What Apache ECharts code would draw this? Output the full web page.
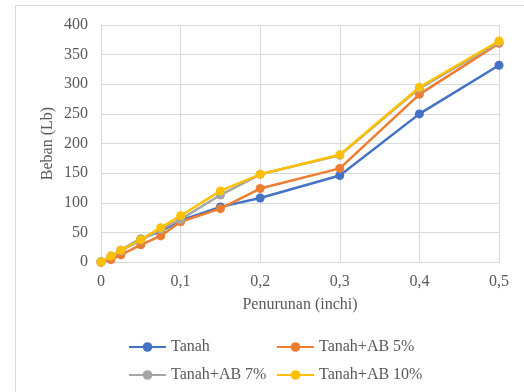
<!DOCTYPE html>
<html>
<head>
<meta charset="utf-8">
<script src="https://cdn.jsdelivr.net/npm/echarts@6/dist/echarts.min.js"></script>
<style>
  html, body { margin: 0; padding: 0; background: #ffffff; }
  #chart { width: 524px; height: 392px; }
</style>
</head>
<body>
<div id="chart"></div>
<script>
// Penetration (inch) vs load (lb)
const penurunan = [0, 0.0125, 0.025, 0.05, 0.075, 0.1, 0.15, 0.2, 0.3, 0.4, 0.5];
const tanah     = [0, 8, 20, 39, 52, 70, 93, 108, 146, 250, 332];
const tanahAB5  = [0, 4, 12, 29, 44, 68, 90, 124, 158, 283, 369];
const tanahAB7  = [0, 10, 19, 37, 55, 72, 113, 148, 180, 293, 371];
const tanahAB10 = [0, 10, 20, 38, 58, 78, 120, 148, 181, 295, 373];

const seriesNames  = ['Tanah', 'Tanah+AB 5%', 'Tanah+AB 7%', 'Tanah+AB 10%'];
const seriesValues = [tanah, tanahAB5, tanahAB7, tanahAB10];
const seriesColors = ['#4472C4', '#ED7D31', '#A5A5A5', '#FFC000'];

const FONT = "'Liberation Serif', 'Times New Roman', serif";
const TEXT = '#595959';
const GRID = '#d9d9d9';

const chart = echarts.init(document.getElementById('chart'), null, { renderer: 'canvas' });

const legendPos = [
  { left: 128, top: 339 },
  { left: 276, top: 339 },
  { left: 128, top: 367 },
  { left: 276, top: 367 }
];

chart.setOption({
  animation: false,
  backgroundColor: '#ffffff',
  graphic: [{
    type: 'rect',
    shape: { x: 15.5, y: 5.5, width: 700, height: 600 },
    style: { fill: 'none', stroke: GRID, lineWidth: 1 },
    silent: true,
    z: -1
  }],
  grid: { left: 101, right: 25, top: 25, bottom: 130 },
  legend: seriesNames.map((n, i) => ({
    data: [n],
    left: legendPos[i].left,
    top: legendPos[i].top,
    padding: 0,
    itemWidth: 37,
    itemHeight: 12,
    itemGap: 0,
    textStyle: { fontFamily: FONT, fontSize: 16, color: TEXT }
  })),
  xAxis: {
    type: 'value',
    min: 0,
    max: 0.5,
    interval: 0.1,
    name: 'Penurunan (inchi)',
    nameLocation: 'middle',
    nameGap: 35,
    nameMoveOverlap: false,
    nameTextStyle: { fontFamily: FONT, fontSize: 16, color: TEXT },
    axisLine: { show: true, lineStyle: { color: GRID, width: 1 } },
    axisTick: { show: false },
    axisLabel: {
      fontFamily: FONT, fontSize: 16, color: TEXT, margin: 12,
      formatter: v => String(+v.toFixed(1)).replace('.', ',')
    },
    splitLine: { show: true, lineStyle: { color: GRID, width: 1 } }
  },
  yAxis: {
    type: 'value',
    min: 0,
    max: 400,
    interval: 50,
    name: 'Beban (Lb)',
    nameLocation: 'middle',
    nameGap: 45,
    nameMoveOverlap: false,
    nameTextStyle: { fontFamily: FONT, fontSize: 16, color: TEXT },
    axisLine: { show: true, lineStyle: { color: GRID, width: 1 } },
    axisTick: { show: false },
    axisLabel: { fontFamily: FONT, fontSize: 16, color: TEXT, margin: 13 },
    splitLine: { show: true, lineStyle: { color: GRID, width: 1 } }
  },
  series: seriesNames.map((n, i) => ({
    name: n,
    type: 'line',
    data: penurunan.map((x, j) => [x, seriesValues[i][j]]),
    symbol: 'circle',
    symbolSize: 9,
    showAllSymbol: true,
    lineStyle: { color: seriesColors[i], width: 2.5 },
    itemStyle: { color: seriesColors[i] },
    z: 2 + i
  }))
});
</script>
</body>
</html>
